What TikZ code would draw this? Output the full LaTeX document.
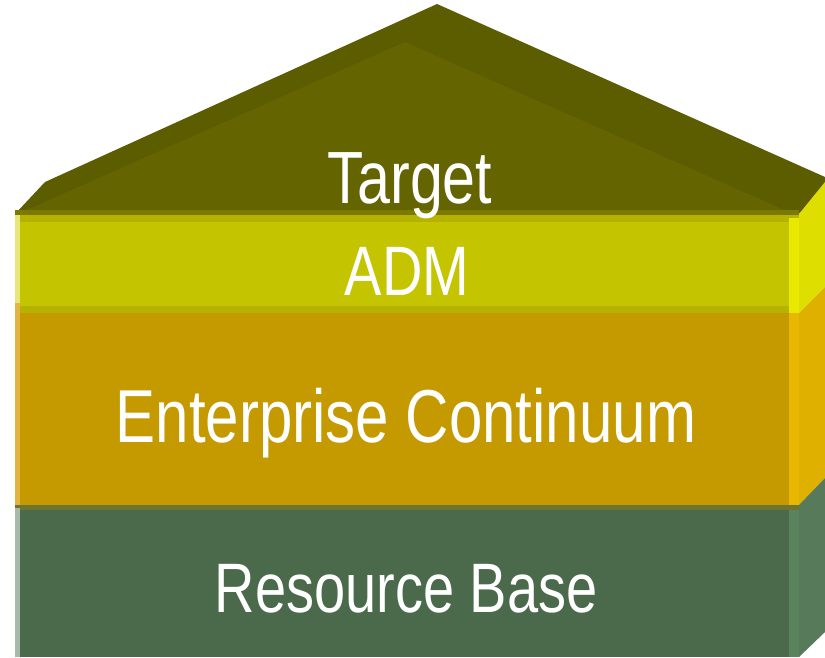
\documentclass[tikz,border=0pt]{standalone}
\usepackage{fontspec}
\newfontfamily\lab{Liberation Sans}[FakeStretch=0.8]
\definecolor{roofdark}{HTML}{5C5C00}
\definecolor{rooffront}{HTML}{646400}
\definecolor{roofedge}{HTML}{7A7A00}
\definecolor{admmain}{HTML}{C4C400}
\definecolor{admband}{HTML}{B5B300}
\definecolor{admhl}{HTML}{E6E67A}
\definecolor{admstrip}{HTML}{E8E800}
\definecolor{admside}{HTML}{DEDE00}
\definecolor{ecmain}{HTML}{C49A00}
\definecolor{echl}{HTML}{E2B440}
\definecolor{ecstrip}{HTML}{E8B800}
\definecolor{ecside}{HTML}{E0B000}
\definecolor{sepline}{HTML}{6E7532}
\definecolor{rbmain}{HTML}{4A6A4B}
\definecolor{rbhl}{HTML}{A7B9A7}
\definecolor{rbstrip}{HTML}{5B845E}
\definecolor{rbside}{HTML}{567A5A}
\begin{document}
\begin{tikzpicture}[x=1pt,y=-1pt,
  lbl/.style={text=white, inner sep=0pt, anchor=base}]
\useasboundingbox (0,0) rectangle (825,657);
\clip (0,0) rectangle (825,657);
% roof
\fill[roofdark] (15,214) -- (45,182) -- (437,4) -- (825,177) -- (825,186) -- (799,214) -- cycle;
\fill[rooffront] (22,212) -- (405,42) -- (789,212) -- cycle;
% ADM layer
\fill[admmain] (15,212) rectangle (789,313);
\fill[admband] (15,212) rectangle (799,222);
\fill[admband] (15,306) rectangle (789,313);
\fill[roofedge] (15,210) rectangle (799,215);
\fill[admhl] (15,215) rectangle (20,303);
\fill[admside] (799,214) -- (825,182) -- (825,287) -- (799,313) -- cycle;
\fill[admstrip] (789,218) rectangle (799,313);
% Enterprise Continuum layer
\fill[ecmain] (15,313) rectangle (789,505);
\fill[echl] (15,303) rectangle (20,505);
\fill[ecside] (799,313) -- (825,287) -- (825,478) -- (799,505) -- cycle;
\fill[ecstrip] (789,313) rectangle (799,505);
% Resource Base layer
\fill[rbmain] (15,505) rectangle (789,657);
\fill[sepline] (15,505) rectangle (799,510);
\fill[rbhl] (15,508) rectangle (20,657);
\fill[rbside] (799,505) -- (825,478) -- (825,632) -- (799,657) -- cycle;
\fill[rbstrip] (789,510) rectangle (799,657);
% labels
\node[lbl, font=\lab\fontsize{74}{74}\selectfont] (target) at (410,203) {Target};
\node[lbl, font=\lab\fontsize{70}{70}\selectfont] (adm) at (407,295) {ADM};
\node[lbl, font=\lab\fontsize{75}{75}\selectfont] (ec) at (406,442) {Enterprise Continuum};
\node[lbl, font=\lab\fontsize{70}{70}\selectfont] (rb) at (406,612) {Resource Base};
\end{tikzpicture}
\end{document}
